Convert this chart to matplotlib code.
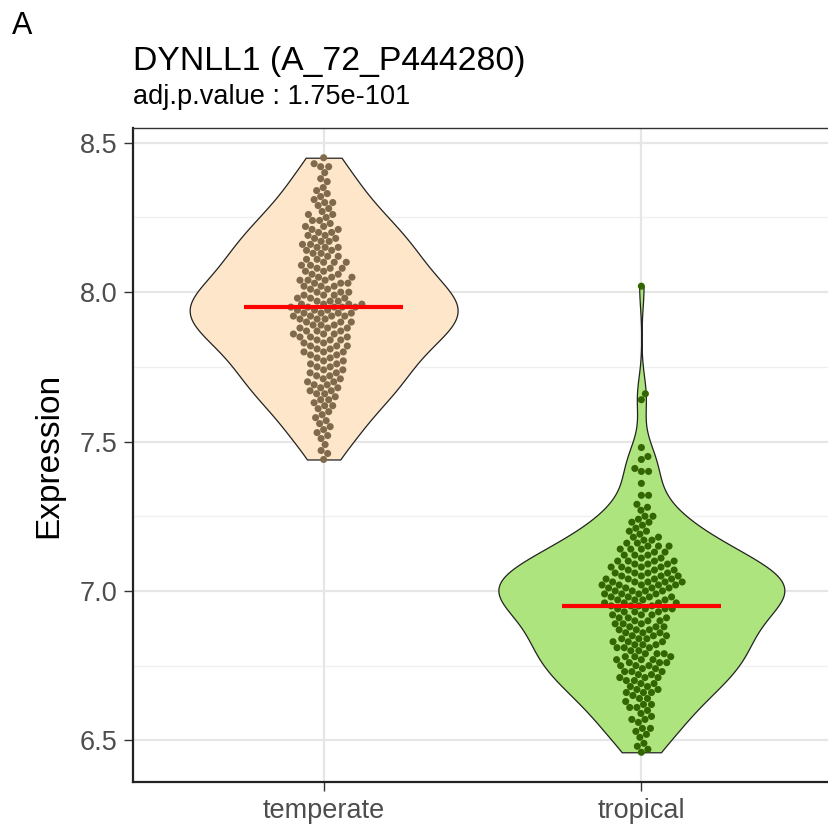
import matplotlib

matplotlib.use("Agg")
import matplotlib.pyplot as plt
import numpy as np

plt.rcParams["font.family"] = ["Liberation Sans", "DejaVu Sans"]

# expression values per climate group
groups = ["temperate", "tropical"]

temperate = [
    7.44, 7.46, 7.47, 7.49,
    7.51, 7.52, 7.53, 7.54, 7.55,
    7.56, 7.57, 7.58, 7.59, 7.60,
    7.61, 7.62, 7.62, 7.63, 7.64, 7.64, 7.65,
    7.66, 7.66, 7.67, 7.67, 7.68, 7.68, 7.69, 7.69, 7.70,
    7.70, 7.71, 7.71, 7.72, 7.72, 7.73, 7.73, 7.74, 7.74, 7.75,
    7.75, 7.76, 7.76, 7.77, 7.77, 7.78, 7.78, 7.79, 7.79, 7.80, 7.80,
    7.80, 7.81, 7.81, 7.82, 7.82, 7.82, 7.83, 7.83, 7.84, 7.84, 7.84, 7.85, 7.85,
    7.85, 7.86, 7.86, 7.86, 7.87, 7.87, 7.87, 7.88, 7.88, 7.88, 7.89, 7.89, 7.89, 7.90, 7.90,
    7.90, 7.91, 7.91, 7.91, 7.92, 7.92, 7.92, 7.92, 7.93, 7.93, 7.93, 7.93, 7.94, 7.94, 7.94,
    7.95, 7.95, 7.95, 7.95, 7.95,
    7.96, 7.96, 7.96, 7.96, 7.97, 7.97, 7.97, 7.98, 7.98, 7.98, 7.99, 7.99, 7.99, 8.00, 8.00, 8.00,
    8.01, 8.01, 8.02, 8.02, 8.02, 8.03, 8.03, 8.03, 8.04, 8.04, 8.04, 8.05, 8.05, 8.05,
    8.06, 8.06, 8.07, 8.07, 8.08, 8.08, 8.08, 8.09, 8.09, 8.10, 8.10, 8.10,
    8.11, 8.11, 8.12, 8.12, 8.13, 8.13, 8.14, 8.14, 8.15, 8.15, 8.15,
    8.16, 8.16, 8.17, 8.17, 8.18, 8.18, 8.19, 8.19, 8.20, 8.20,
    8.21, 8.21, 8.22, 8.22, 8.23, 8.24, 8.24, 8.25,
    8.26, 8.26, 8.27, 8.28, 8.29, 8.30, 8.30,
    8.31, 8.32, 8.33, 8.34, 8.35,
    8.37, 8.38, 8.40,
    8.42, 8.42, 8.43, 8.45,
]

tropical = [
    6.46, 6.47, 6.48, 6.49,
    6.51, 6.52, 6.53, 6.54, 6.54,
    6.56, 6.57, 6.57, 6.58, 6.59, 6.60,
    6.61, 6.61, 6.62, 6.62, 6.63, 6.64, 6.64, 6.65,
    6.66, 6.66, 6.66, 6.67, 6.67, 6.68, 6.68, 6.69, 6.69, 6.70, 6.70,
    6.71, 6.71, 6.71, 6.72, 6.72, 6.73, 6.73, 6.73, 6.74, 6.74, 6.75, 6.75, 6.75,
    6.76, 6.76, 6.76, 6.77, 6.77, 6.77, 6.78, 6.78, 6.78, 6.79, 6.79, 6.79, 6.80, 6.80,
    6.81, 6.81, 6.81, 6.82, 6.82, 6.82, 6.83, 6.83, 6.83, 6.84, 6.84, 6.84, 6.85, 6.85, 6.85,
    6.86, 6.86, 6.86, 6.87, 6.87, 6.87, 6.88, 6.88, 6.88, 6.89, 6.89, 6.89, 6.90, 6.90, 6.90,
    6.91, 6.91, 6.91, 6.92, 6.92, 6.92, 6.93, 6.93, 6.93, 6.94, 6.94, 6.94, 6.94, 6.95, 6.95, 6.95, 6.95,
    6.96, 6.96, 6.96, 6.96, 6.97, 6.97, 6.97, 6.97, 6.98, 6.98, 6.98, 6.98, 6.99, 6.99, 6.99, 6.99,
    7.00, 7.00, 7.00, 7.00,
    7.01, 7.01, 7.01, 7.01, 7.02, 7.02, 7.02, 7.02, 7.02, 7.03, 7.03, 7.03, 7.03, 7.03,
    7.04, 7.04, 7.04, 7.04, 7.05, 7.05, 7.05, 7.05,
    7.06, 7.06, 7.06, 7.06, 7.07, 7.07, 7.07, 7.08, 7.08, 7.08, 7.08, 7.09, 7.09, 7.09, 7.10, 7.10, 7.10, 7.10,
    7.11, 7.11, 7.12, 7.12, 7.12, 7.13, 7.13, 7.14, 7.14, 7.14, 7.15, 7.15, 7.15,
    7.16, 7.16, 7.17, 7.17, 7.18, 7.18, 7.19, 7.20, 7.20,
    7.21, 7.22, 7.23, 7.23, 7.24, 7.25,
    7.25, 7.27, 7.28, 7.29,
    7.32, 7.32, 7.36,
    7.40, 7.40,
    7.41, 7.44, 7.45,
    7.48,
    7.64, 7.66,
    8.02,
]

violin_fill = ["#FDE6CA", "#ADE47D"]
point_color = ["#7F6A4C", "#336600"]

FIG_W, FIG_H, DPI = 829, 832, 100


def kde_nrd0(vals, grid):
    vals = np.asarray(vals, dtype=np.float64)
    n = len(vals)
    sd = vals.std(ddof=1)
    iqr = np.subtract(*np.percentile(vals, [75, 25]))
    bw = 0.9 * min(sd, iqr / 1.34) * n ** -0.2
    z = (grid[:, None] - vals[None, :]) / bw
    return np.exp(-0.5 * z**2).sum(axis=1) / (n * bw * np.sqrt(2 * np.pi))


def swarm_offsets(ax, xc, vals, d):
    # beeswarm placement in pixel space, ascending priority
    vals = np.asarray(vals, dtype=np.float64)
    py = ax.transData.transform(np.column_stack([np.full_like(vals, xc), vals]))[:, 1]
    px_per_x = ax.transData.transform((1, 0))[0] - ax.transData.transform((0, 0))[0]
    order = np.argsort(py, kind="stable")
    placed = []
    offs = np.zeros(len(vals))
    for i in order:
        yi = py[i]
        near = [(qx, qy) for qx, qy in placed if abs(qy - yi) < d]
        cands = [0.0]
        for qx, qy in near:
            dx = np.sqrt(d**2 - (qy - yi) ** 2)
            cands += [qx + dx, qx - dx]
        cands.sort(key=abs)
        for c in cands:
            if all((c - qx) ** 2 + (yi - qy) ** 2 >= d**2 - 1e-6 for qx, qy in near):
                break
        placed.append((c, yi))
        offs[i] = c / px_per_x
    return offs


fig = plt.figure(figsize=(FIG_W / DPI, FIG_H / DPI), dpi=DPI)
ax = fig.add_axes([133 / FIG_W, 50 / FIG_H, 699 / FIG_W, 654 / FIG_H])

all_vals = np.concatenate([temperate, tropical])
lo, hi = all_vals.min(), all_vals.max()
pad = 0.05 * (hi - lo)
ax.set_xlim(0.4, 2.6)
ax.set_ylim(lo - pad, hi + pad)

# grid, theme_bw style
for y in [6.75, 7.25, 7.75, 8.25]:
    ax.axhline(y, color="#EFEFEF", lw=0.9, zorder=0)
for y in [6.5, 7.0, 7.5, 8.0, 8.5]:
    ax.axhline(y, color="#E6E6E6", lw=1.6, zorder=0)
for x in [1, 2]:
    ax.axvline(x, color="#E6E6E6", lw=1.6, zorder=0)

data = [temperate, tropical]
dens = []
grids = []
for vals in data:
    g = np.linspace(min(vals), max(vals), 512)
    grids.append(g)
    dens.append(kde_nrd0(vals, g))
dmax = max(d.max() for d in dens)

for i, vals in enumerate(data):
    xc = i + 1
    hw = 0.45 * dens[i] / dmax
    ax.fill_betweenx(grids[i], xc - hw, xc + hw, facecolor=violin_fill[i],
                     edgecolor="#222222", lw=0.9, zorder=2)

fig.canvas.draw()
for i, vals in enumerate(data):
    xc = i + 1
    offs = swarm_offsets(ax, xc, vals, 7.2)
    ax.scatter(xc + offs, vals, s=26, color=point_color[i], edgecolors="none", zorder=3)
    med = np.median(vals)
    ax.plot([xc - 0.25, xc + 0.25], [med, med], color="#FF0000", lw=3.0,
            solid_capstyle="butt", zorder=4)

ax.set_xticks([1, 2])
ax.set_xticklabels(groups)
ax.set_yticks([6.5, 7.0, 7.5, 8.0, 8.5])
ax.set_yticklabels(["6.5", "7.0", "7.5", "8.0", "8.5"])
ax.tick_params(axis="both", length=6.5, width=1.0, color="#333333",
               labelcolor="#4D4D4D", labelsize=19.5)
ax.tick_params(axis="y", pad=4.5)
ax.tick_params(axis="x", pad=5)

for side in ["left", "bottom"]:
    ax.spines[side].set_linewidth(1.6)
    ax.spines[side].set_color("#222222")
ax.spines["top"].set_linewidth(1.0)
ax.spines["top"].set_color("#333333")
ax.spines["right"].set_visible(False)

ax.set_ylabel("Expression", fontsize=24, color="black")
ax.yaxis.set_label_coords(-0.098, 0.5)

fig.text(12 / FIG_W, 1 - 34 / FIG_H, "A", fontsize=22, ha="left", va="baseline")
fig.text(133 / FIG_W, 1 - 70 / FIG_H, "DYNLL1 (A_72_P444280)", fontsize=24.3,
         ha="left", va="baseline")
fig.text(133 / FIG_W, 1 - 104 / FIG_H, "adj.p.value : 1.75e-101", fontsize=19.5,
         ha="left", va="baseline")

fig.savefig("out.png", dpi=DPI)
